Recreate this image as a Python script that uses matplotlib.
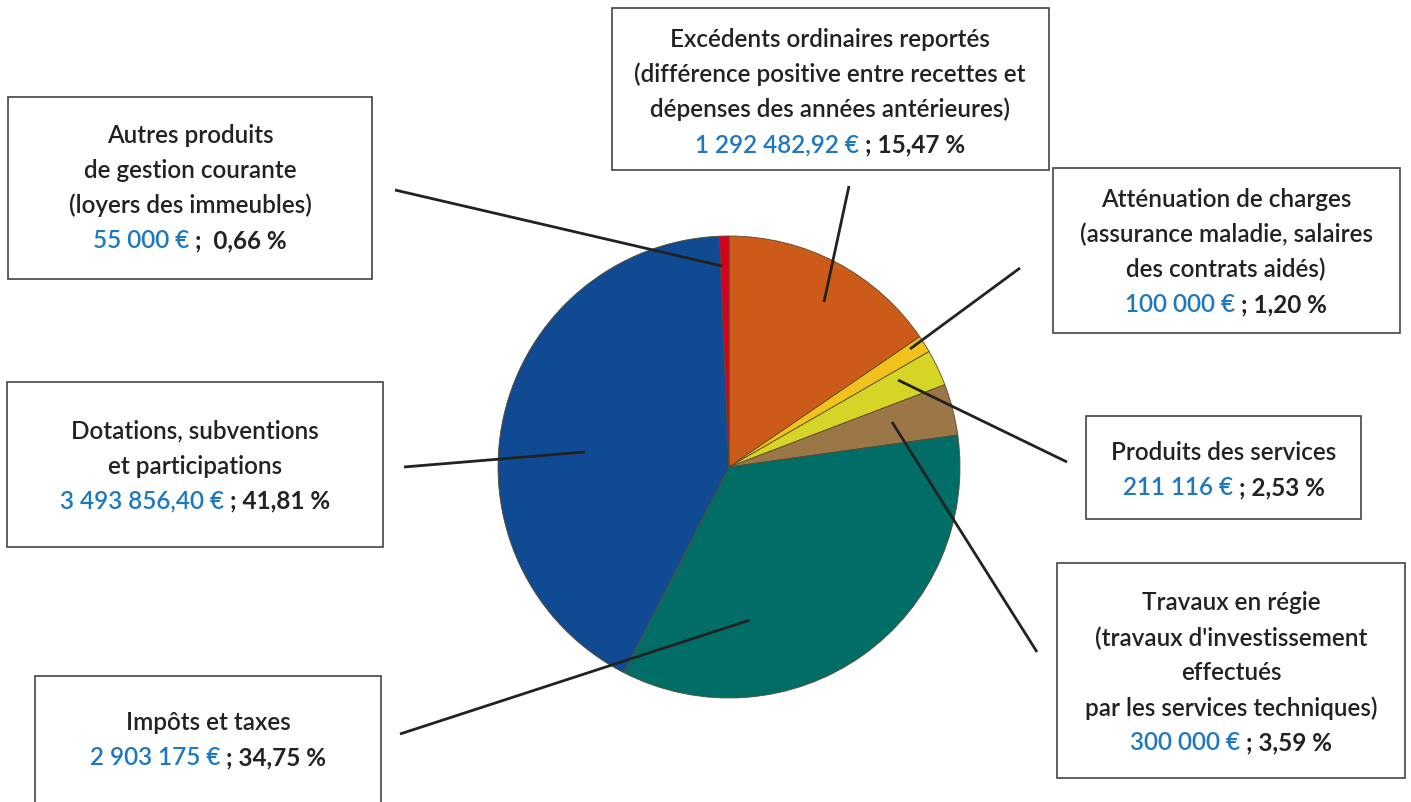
import matplotlib
matplotlib.use("Agg")
import matplotlib.pyplot as plt
from matplotlib.patches import Rectangle

# ---------------- data ----------------
categories = [
    "Excédents ordinaires reportés",
    "Atténuation de charges",
    "Produits des services",
    "Travaux en régie",
    "Impôts et taxes",
    "Dotations, subventions et participations",
    "Autres produits de gestion courante",
]
percentages = [15.47, 1.20, 2.53, 3.59, 34.75, 41.81, 0.66]
amounts = ["1 292 482,92 €", "100 000 €", "211 116 €", "300 000 €",
           "2 903 175 €", "3 493 856,40 €", "55 000 €"]
pct_labels = ["; 15,47 %", "; 1,20 %", "; 2,53 %", "; 3,59 %",
              "; 34,75 %", "; 41,81 %", ";  0,66 %"]
label_lines = [
    ["Excédents ordinaires reportés", "(différence positive entre recettes et",
     "dépenses des années antérieures)"],
    ["Atténuation de charges", "(assurance maladie, salaires", "des contrats aidés)"],
    ["Produits des services"],
    ["Travaux en régie", "(travaux d'investissement", "effectués",
     "par les services techniques)"],
    ["Impôts et taxes"],
    ["Dotations, subventions", "et participations"],
    ["Autres produits", "de gestion courante", "(loyers des immeubles)"],
]
colors = ["#CC5A19", "#F2C21C", "#D6D426", "#9B7647", "#006E66", "#0F4A93", "#D8001F"]

# ---------------- layout (pixels, y from top) ----------------
W, H = 1411, 802
boxes = [  # x0, y0, x1, y1
    (612, 8, 1049, 170),
    (1053, 168, 1400, 333),
    (1086, 416, 1361, 519),
    (1057, 563, 1405, 778),
    (35, 676, 381, 830),
    (7, 382, 383, 547),
    (8, 97, 372, 279),
]
text_centers = [(830, 92), (1226, 252), (1224, 470), (1231, 673), (208, 740), (195, 466), (190, 188)]
leaders = [
    ((849, 186), (824, 302)),
    ((1020, 268), (910, 349)),
    ((1067, 462), (898, 380)),
    ((1037, 652), (892, 422)),
    ((400, 734), (750, 620)),
    ((404, 467), (585, 452)),
    ((395, 190), (722, 266)),
]
LINE_STEP = 35
FONT = ["Lato", "DejaVu Sans"]
FS = 17.5
BLUE = "#1E78C0"
DARK = "#222222"

fig = plt.figure(figsize=(W / 100, H / 100), dpi=100)
ax = fig.add_axes([0, 0, 1, 1])
ax.set_xlim(0, W)
ax.set_ylim(0, H)
ax.set_aspect("equal")
ax.axis("off")

def Y(y):
    return H - y

ax.pie(percentages, colors=colors, startangle=90, counterclock=False,
       center=(729, Y(467)), radius=231,
       wedgeprops=dict(edgecolor="#5a4a2a", linewidth=0.6))
ax.set_xlim(0, W)
ax.set_ylim(0, H)

for (p0, p1) in leaders:
    ax.plot([p0[0], p1[0]], [Y(p0[1]), Y(p1[1])], color=DARK, lw=2.0,
            solid_capstyle="butt", zorder=5)

for (x0, y0, x1, y1) in boxes:
    ax.add_patch(Rectangle((x0, Y(y1)), x1 - x0, y1 - y0, facecolor="white",
                           edgecolor="#444444", lw=1.2, zorder=6))

fig.canvas.draw()
renderer = fig.canvas.get_renderer()

for i, lines in enumerate(label_lines):
    cx, cy = text_centers[i]
    n = len(lines) + 1
    top = cy - (n - 1) * LINE_STEP / 2
    for j, line in enumerate(lines):
        ax.text(cx, Y(top + j * LINE_STEP), line, ha="center", va="center",
                fontsize=FS, family=FONT, color=DARK, fontweight="semibold", zorder=7)
    yl = Y(top + len(lines) * LINE_STEP)
    t1 = ax.text(0, yl, amounts[i] + " ", ha="left", va="center", fontsize=FS,
                 family=FONT, color=BLUE, fontweight="semibold", zorder=7)
    t2 = ax.text(0, yl, pct_labels[i], ha="left", va="center", fontsize=FS,
                 family=FONT, color=DARK, fontweight="bold", zorder=7)
    w1 = t1.get_window_extent(renderer).width
    w2 = t2.get_window_extent(renderer).width
    x_start = cx - (w1 + w2) / 2
    t1.set_x(x_start)
    t2.set_x(x_start + w1)

fig.savefig("out.png", dpi=100, facecolor="white")
